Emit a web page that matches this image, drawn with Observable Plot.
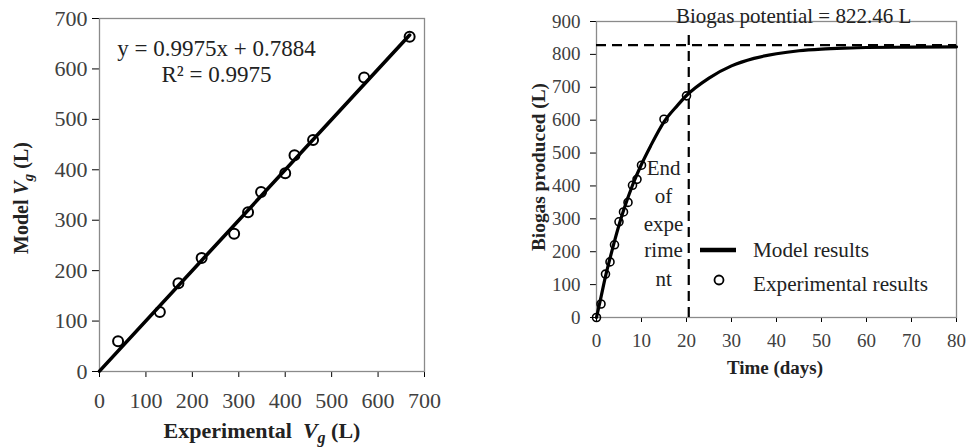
<!DOCTYPE html>
<html>
<head>
<meta charset="utf-8">
<script src="https://cdn.jsdelivr.net/npm/d3@7"></script>
<script src="https://cdn.jsdelivr.net/npm/@observablehq/plot@0.6"></script>
<style>
  html, body { margin: 0; padding: 0; background: #fff; }
  #wrap { position: relative; width: 970px; height: 447px; overflow: hidden; }
  #left { position: absolute; left: 0; top: 0; }
  #right { position: absolute; left: 480px; top: 0; }
</style>
</head>
<body>
<div id="wrap"><div id="left"></div><div id="right"></div></div>
<script>
// ---- Left chart data: experimental vs model Vg ----
const experimentalVg = [40, 130, 170, 220, 290, 320, 348, 400, 420, 460, 570, 668];
const modelVg = [60, 118, 175, 225, 273, 316, 356, 393, 429, 459, 583, 664];
const fitLineX = [0, 668];
const fitLineY = [0.79, 667.1];
const leftTicks = [0, 100, 200, 300, 400, 500, 600, 700];

// ---- Right chart data: biogas production over time ----
const expTime = [0, 1, 2, 3, 4, 5, 6, 7, 8, 9, 10, 15, 20];
const expBiogas = [0, 41, 132, 169, 221, 291, 321, 350, 402, 420, 463, 603, 674];
const modelTime = [0, 1, 2, 3, 4, 6, 8, 10, 12, 15, 18, 20, 25, 30, 35, 40, 45, 50, 55, 60, 70, 80];
const modelBiogas = [0, 62, 125, 180, 232, 325, 402, 466, 521, 595, 645, 675, 728, 765, 788, 802, 811, 816, 819, 821, 822, 823];
const potentialLevel = 828;
const endOfExperimentDay = 20.5;
const endLabelLines = ["End", "of", "expe", "rime", "nt"];
const rightXTicks = [0, 10, 20, 30, 40, 50, 60, 70, 80];
const rightYTicks = [0, 100, 200, 300, 400, 500, 600, 700, 800, 900];

const serif = "Liberation Serif";
const tickColor = "#404040";
const frameColor = "#8a8a8a";
const blank = () => "";

// ---------- LEFT ----------
const scatter = experimentalVg.map((x, i) => ({x, y: modelVg[i]}));
const fit = fitLineX.map((x, i) => ({x, y: fitLineY[i]}));

const left = Plot.plot({
  width: 450, height: 447,
  marginLeft: 99, marginRight: 26, marginTop: 18, marginBottom: 76,
  style: {background: "#fff"},
  x: {domain: [0, 700], ticks: leftTicks, tickSize: 6, tickFormat: blank, label: null},
  y: {domain: [0, 700], ticks: leftTicks, tickSize: 7, tickFormat: blank, label: null},
  marks: [
    Plot.frame({stroke: frameColor, strokeWidth: 1.3}),
    Plot.text(leftTicks, {x: d => d, y: 0, dy: 29, text: d => String(d), fontSize: 22, fontFamily: serif, fill: tickColor, textAnchor: "middle"}),
    Plot.text(leftTicks, {y: d => d, x: 0, dx: -12, text: d => String(d), fontSize: 22, fontFamily: serif, fill: tickColor, textAnchor: "end"}),
    Plot.line(fit, {x: "x", y: "y", stroke: "#000", strokeWidth: 3.6}),
    Plot.dot(scatter, {x: "x", y: "y", r: 5, stroke: "#000", strokeWidth: 2, fill: "none"}),
    Plot.text(["y = 0.9975x + 0.7884"], {x: 252, y: 640, text: d => d, fontSize: 23, fill: "#222", textAnchor: "middle", fontFamily: serif}),
    Plot.text(["R² = 0.9975"], {x: 252, y: 589, text: d => d, fontSize: 23, fill: "#222", textAnchor: "middle", fontFamily: serif})
  ]
});
document.getElementById("left").appendChild(left);

// axis titles with italic V and subscript g
(function() {
  const svg = d3.select(left);
  const xt = svg.append("text")
    .attr("x", 262).attr("y", 438)
    .attr("text-anchor", "middle")
    .style("font-family", serif).style("font-size", "22px").style("font-weight", "bold").attr("fill", "#222");
  xt.append("tspan").text("Experimental  ");
  xt.append("tspan").attr("font-style", "italic").text("V");
  xt.append("tspan").attr("font-style", "italic").attr("font-size", "16px").attr("dy", 5).text("g");
  xt.append("tspan").attr("dy", -5).text(" (L)");

  const yt = svg.append("text")
    .attr("transform", "translate(28,198) rotate(-90)")
    .attr("text-anchor", "middle")
    .style("font-family", serif).style("font-size", "20px").style("font-weight", "bold").attr("fill", "#222");
  yt.append("tspan").text("Model ");
  yt.append("tspan").attr("font-style", "italic").text("V");
  yt.append("tspan").attr("font-style", "italic").attr("font-size", "15px").attr("dy", 5).text("g");
  yt.append("tspan").attr("dy", -5).text(" (L)");
})();

// ---------- RIGHT ----------
const expPts = expTime.map((t, i) => ({t, v: expBiogas[i]}));
const modelPts = modelTime.map((t, i) => ({t, v: modelBiogas[i]}));

const right = Plot.plot({
  width: 490, height: 447,
  marginLeft: 116, marginRight: 14, marginTop: 21, marginBottom: 130,
  style: {background: "transparent", overflow: "visible"},
  x: {domain: [0, 80], ticks: rightXTicks, tickSize: 5, tickFormat: blank, label: null},
  y: {domain: [0, 900], ticks: rightYTicks, tickSize: 6, tickFormat: blank, label: null},
  marks: [
    Plot.frame({stroke: frameColor, strokeWidth: 1.3}),
    Plot.text(rightXTicks, {x: d => d, y: 0, dy: 23, text: d => String(d), fontSize: 19, fontFamily: serif, fill: tickColor, textAnchor: "middle"}),
    Plot.text(rightYTicks, {y: d => d, x: 0, dx: -16, text: d => String(d), fontSize: 19, fontFamily: serif, fill: tickColor, textAnchor: "end"}),
    Plot.ruleY([potentialLevel], {x1: 0, x2: 80, stroke: "#000", strokeWidth: 2.2, strokeDasharray: "10,6"}),
    Plot.ruleX([endOfExperimentDay], {y1: 0, y2: 872, stroke: "#000", strokeWidth: 2.2, strokeDasharray: "10,6"}),
    Plot.line(modelPts, {x: "t", y: "v", stroke: "#000", strokeWidth: 3.2, curve: "monotone-x"}),
    Plot.dot(expPts, {x: "t", y: "v", r: 4, stroke: "#000", strokeWidth: 1.6, fill: "none"}),
    Plot.text(["Biogas potential = 822.46 L"], {x: 43.8, y: 917, text: d => d, fontSize: 21, fill: "#222", textAnchor: "middle", fontFamily: serif}),
    Plot.text(endLabelLines, {
      x: 14.9, y: (d, i) => [455, 370, 284, 203, 117][i], text: d => d, fontSize: 21, fill: "#222", textAnchor: "middle", fontFamily: serif
    })
  ]
});
document.getElementById("right").appendChild(right);

// legend + axis titles
(function() {
  const svg = d3.select(right);
  svg.append("line").attr("x1", 220).attr("x2", 256).attr("y1", 250).attr("y2", 250)
    .attr("stroke", "#000").attr("stroke-width", 4.5);
  svg.append("text").attr("x", 273).attr("y", 250).attr("dy", "0.35em").attr("text-anchor", "start")
    .style("font-family", serif).style("font-size", "20px").attr("fill", "#222")
    .attr("textLength", 116).attr("lengthAdjust", "spacingAndGlyphs").text("Model results");
  svg.append("circle").attr("cx", 239).attr("cy", 280).attr("r", 4.5)
    .attr("fill", "none").attr("stroke", "#000").attr("stroke-width", 1.8);
  svg.append("text").attr("x", 273).attr("y", 284).attr("dy", "0.35em").attr("text-anchor", "start")
    .style("font-family", serif).style("font-size", "20px").attr("fill", "#222")
    .attr("textLength", 175).attr("lengthAdjust", "spacingAndGlyphs").text("Experimental results");

  svg.append("text").attr("x", 295).attr("y", 368).attr("dy", "0.35em").attr("text-anchor", "middle")
    .style("font-family", serif).style("font-size", "18px").style("font-weight", "bold").attr("fill", "#222")
    .attr("textLength", 96).attr("lengthAdjust", "spacingAndGlyphs")
    .text("Time (days)");
  svg.append("text").attr("transform", "translate(58,167) rotate(-90)").attr("dy", "0.35em").attr("text-anchor", "middle")
    .style("font-family", serif).style("font-size", "19px").style("font-weight", "bold").attr("fill", "#222")
    .attr("textLength", 168).attr("lengthAdjust", "spacingAndGlyphs")
    .text("Biogas produced (L)");
})();
</script>
</body>
</html>
